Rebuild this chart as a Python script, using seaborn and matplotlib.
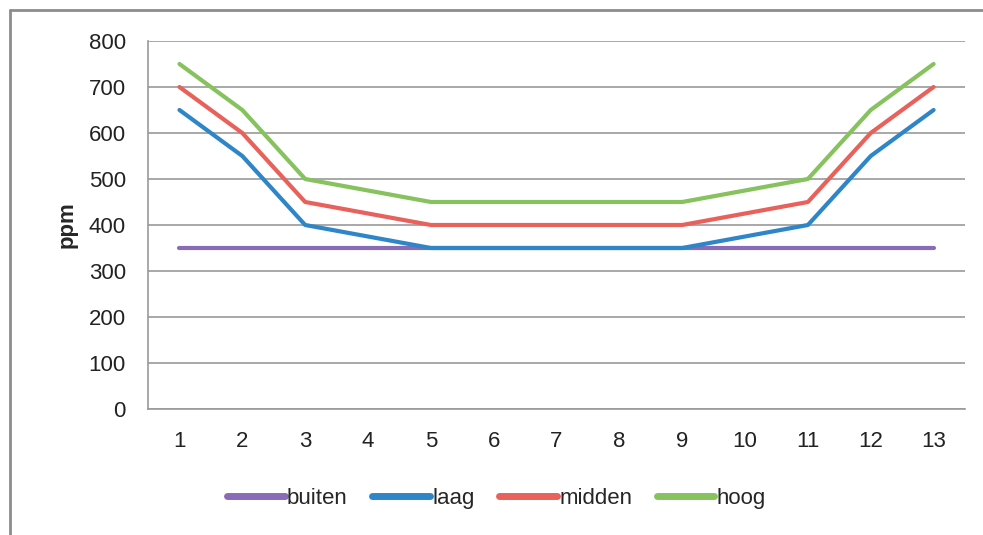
import matplotlib.pyplot as plt
import seaborn as sns
import pandas as pd

# gegevens
x_labels = [str(i) for i in range(1, 14)]
buiten = [350, 350, 350, 350, 350, 350, 350, 350, 350, 350, 350, 350, 350]
laag = [650, 550, 400, 375, 350, 350, 350, 350, 350, 375, 400, 550, 650]
midden = [700, 600, 450, 425, 400, 400, 400, 400, 400, 425, 450, 600, 700]
hoog = [750, 650, 500, 475, 450, 450, 450, 450, 450, 475, 500, 650, 750]

reeksen = {"buiten": buiten, "laag": laag, "midden": midden, "hoog": hoog}
kleuren = {"buiten": "#8A6BB8", "laag": "#2E86C8", "midden": "#E8615A", "hoog": "#86C25E"}

df = pd.concat(
    [pd.DataFrame({"x": range(1, 14), "ppm": v, "reeks": k}) for k, v in reeksen.items()],
    ignore_index=True,
)

sns.set_style("white")
plt.rcParams["font.family"] = ["Liberation Sans", "DejaVu Sans"]

fig = plt.figure(figsize=(9.83, 5.35), dpi=100)
ax = fig.add_axes([0.1506, 0.2355, 0.8311, 0.6879])

sns.lineplot(data=df, x="x", y="ppm", hue="reeks", palette=kleuren,
             linewidth=3, sort=False, ax=ax, legend=False, solid_capstyle="round")

ax.set_xlim(0.5, 13.5)
ax.set_ylim(0, 800)
ax.set_yticks(range(0, 801, 100))
ax.yaxis.grid(True, color="#9a9a9a", linewidth=1.2)
ax.set_axisbelow(True)

# x-ticks: labels op de categorie, streepjes ertussen
ax.set_xticks(range(1, 14))
ax.set_xticklabels(x_labels)
ax.set_xticks([i + 0.5 for i in range(0, 14)], minor=True)
ax.tick_params(axis="x", which="major", length=0, pad=16, labelsize=16, colors="#222222")
ax.tick_params(axis="x", which="minor", length=6, color="#9a9a9a", width=1.2, direction="out")
ax.tick_params(axis="y", length=6, color="#9a9a9a", width=1.2, labelsize=16, pad=10, colors="#222222")

for s in ["top", "right"]:
    ax.spines[s].set_visible(False)
for s in ["left", "bottom"]:
    ax.spines[s].set_color("#9a9a9a")
    ax.spines[s].set_linewidth(1.2)

ax.set_xlabel("")
ax.set_ylabel("ppm", fontsize=16, fontweight="bold", labelpad=8)

handles = [plt.Line2D([0], [0], color=kleuren[k], linewidth=5) for k in reeksen]
fig.legend(handles, list(reeksen.keys()), loc="center", bbox_to_anchor=(0.505, 0.068),
           ncol=4, frameon=False, fontsize=16, handlelength=2.6, handletextpad=0.1,
           columnspacing=1.1)

# kader rond de grafiek (boven en links)
fig.add_artist(plt.Line2D([0.0102, 1.0], [0.981, 0.981], transform=fig.transFigure,
                          color="#8c8c8c", linewidth=2))
fig.add_artist(plt.Line2D([0.0102, 0.0102], [0.0, 0.981], transform=fig.transFigure,
                          color="#8c8c8c", linewidth=2))

fig.savefig("out.png", dpi=100)
